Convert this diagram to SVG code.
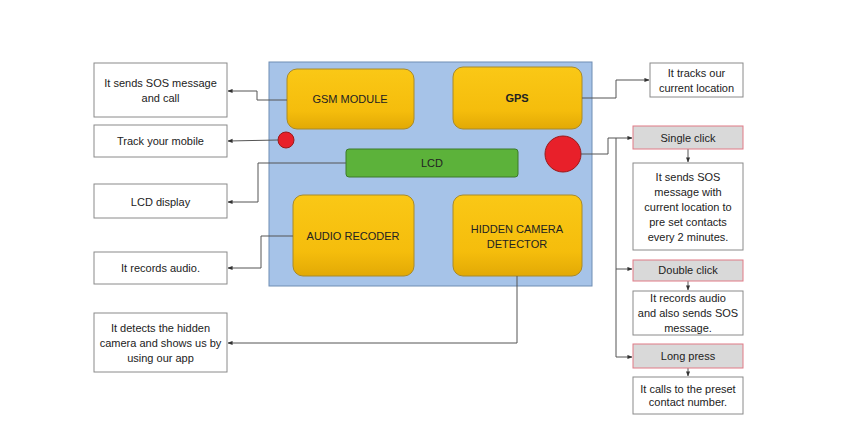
<svg xmlns="http://www.w3.org/2000/svg" width="867" height="432" viewBox="0 0 867 432">
<defs>
<linearGradient id="og" x1="0" y1="0" x2="0" y2="1">
<stop offset="0" stop-color="#fac816"/>
<stop offset="0.7" stop-color="#f5bd0c"/>
<stop offset="1" stop-color="#e2a905"/>
</linearGradient>
<marker id="ah" viewBox="0 0 6 6" refX="5.5" refY="3" markerWidth="5" markerHeight="5" orient="auto" markerUnits="userSpaceOnUse">
<path d="M0,0.5 L6,3 L0,5.5 z" fill="#333"/>
</marker>
<style>
text{font-family:"Liberation Sans",Arial,sans-serif;font-size:11px;fill:#222;text-anchor:middle;dominant-baseline:central}
.b{font-weight:bold}
.mod{fill:url(#og);stroke:#a88a2a;stroke-width:1}
.box{fill:#fff;stroke:#8a8a8a;stroke-width:1}
.gray{fill:#d9d9d9;stroke:#e07a86;stroke-width:1}
.red{fill:#e8202a;stroke:#9a1a1a;stroke-width:1}
.c{fill:none;stroke:#555;stroke-width:1;marker-end:url(#ah)}
</style>
</defs>
<rect width="867" height="432" fill="#fff"/>
<g id="panel"><rect x="269" y="62" width="323" height="224" fill="#a6c3e8" stroke="#6f8db3" stroke-width="1"/></g>
<g id="gsm"><rect class="mod" x="287" y="69" width="127" height="60" rx="10"/><text x="350" y="99">GSM MODULE</text></g>
<g id="gps"><rect class="mod" x="453" y="67" width="129" height="62" rx="10"/><text class="b" x="517" y="98">GPS</text></g>
<g id="lcd"><rect x="346" y="149" width="172" height="28" rx="3" fill="#5cb23a" stroke="#3c7a28" stroke-width="1"/><text x="432" y="163">LCD</text></g>
<g id="audio"><rect class="mod" x="293" y="195" width="121" height="81" rx="10"/><text x="353" y="236">AUDIO RECODER</text></g>
<g id="camera"><rect class="mod" x="453" y="195" width="129" height="81" rx="10"/><text x="517" y="229">HIDDEN CAMERA</text><text x="517" y="244">DETECTOR</text></g>
<g id="small-button"><circle class="red" cx="286" cy="140" r="8"/></g>
<g id="sos-button"><circle class="red" cx="563" cy="154" r="18"/></g>

<g id="connectors">
<polyline class="c" points="287,100 257,100 257,91 228,91"/>
<polyline class="c" points="278,140 228,141"/>
<polyline class="c" points="346,163 258,163 258,202 228,202"/>
<polyline class="c" points="293,236 261,236 261,268 228,268"/>
<polyline class="c" points="517,276 517,343 228,343"/>
<polyline class="c" points="582,98 616,98 616,80 649,80"/>
<polyline class="c" points="581,154 608,154 608,138 632,138"/>
<polyline fill="none" stroke="#555" stroke-width="1" points="616,138 616,357"/>
<polyline class="c" points="616,269 632,269"/>
<polyline class="c" points="616,357 632,357"/>
<polyline class="c" points="688,149 688,162"/>
<polyline class="c" points="688,281 688,290"/>
<polyline class="c" points="688,368 688,376"/>
</g>

<g id="out-sos"><rect class="box" x="94" y="63" width="133" height="54"/><text x="160.5" y="83">It sends SOS message</text><text x="160.5" y="98">and call</text></g>
<g id="out-track"><rect class="box" x="94" y="125" width="133" height="32"/><text x="160.5" y="141">Track your mobile</text></g>
<g id="out-lcd"><rect class="box" x="94" y="184" width="133" height="34"/><text x="160.5" y="202">LCD display</text></g>
<g id="out-audio"><rect class="box" x="94" y="252" width="133" height="32"/><text x="160.5" y="268">It records audio.</text></g>
<g id="out-camera"><rect class="box" x="94" y="313" width="133" height="59"/><text x="160.5" y="328">It detects the hidden</text><text x="160.5" y="343">camera and shows us by</text><text x="160.5" y="358">using our app</text></g>
<g id="out-gps"><rect class="box" x="650" y="63" width="93" height="34"/><text x="696.5" y="73">It tracks our</text><text x="696.5" y="88">current location</text></g>

<g id="single"><rect class="gray" x="633" y="126" width="110" height="23"/><text x="688" y="138">Single click</text></g>
<g id="single-out"><rect class="box" x="633" y="163" width="110" height="87"/><text x="688" y="177">It sends SOS</text><text x="688" y="192">message with</text><text x="688" y="207">current location to</text><text x="688" y="222">pre set contacts</text><text x="688" y="237">every 2 minutes.</text></g>
<g id="double"><rect class="gray" x="633" y="260" width="110" height="21"/><text x="688" y="270">Double click</text></g>
<g id="double-out"><rect class="box" x="633" y="291" width="110" height="44"/><text x="688" y="298">It records audio</text><text x="688" y="313">and also sends SOS</text><text x="688" y="328">message.</text></g>
<g id="long"><rect class="gray" x="633" y="344" width="110" height="24"/><text x="688" y="356">Long press</text></g>
<g id="long-out"><rect class="box" x="633" y="377" width="110" height="37"/><text x="688" y="389">It calls to the preset</text><text x="688" y="402">contact number.</text></g>
</svg>
